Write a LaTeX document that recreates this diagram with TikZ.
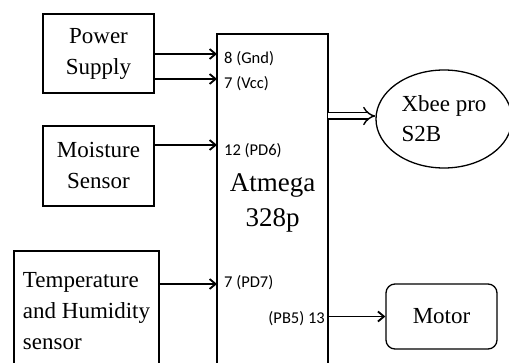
\documentclass[tikz,border=0pt]{standalone}
\usepackage{fontspec}
\setmainfont{Liberation Serif}
\newfontfamily\pinfont{Carlito}
\usetikzlibrary{arrows.meta,positioning,shapes.geometric}

\begin{document}
\begin{tikzpicture}[
  x=1pt, y=-1pt,
  block/.style={draw=black, line width=1.3pt, inner sep=0pt, align=center,
    minimum width=111pt, font=\fontsize{23}{31}\selectfont},
  pin/.style={inner sep=0pt, font=\pinfont\fontsize{16.5}{18}\selectfont},
  arr/.style={-{Straight Barb[length=6pt,width=10pt]}, line width=1.8pt},
  dbl/.style={-{Implies[scale=1.3]}, double, double distance=5pt, line width=1.4pt}
]
\useasboundingbox (0,0) rectangle (509,363);

\node[block, minimum height=79pt] (pw) at (98.5,53.5) {Power\\Supply};
\node[block, minimum height=80pt] (ms) at (98.5,166) {Moisture\\Sensor};
\node[block, minimum width=145pt, minimum height=120pt, align=left]
  (th) at (86.5,311) {Temperature\\and Humidity\\sensor};
\node[block, minimum height=338pt, font=\fontsize{27}{35}\selectfont] (mcu) at (272.5,203) {Atmega\\328p};
\node[block, ellipse, minimum width=136pt, minimum height=98pt, align=left, font=\fontsize{23}{30}\selectfont]
  (xbee) at (444,119) {Xbee pro\\S2B};
\node[block, rounded corners=9pt, minimum height=65pt] (motor) at (441.5,316.5) {Motor};

\coordinate (p8) at (217,54);
\coordinate (p7) at (217,79);
\coordinate (p12) at (217,145);
\coordinate (pd7) at (217,284);
\coordinate (tx) at (328,116);

\node[pin, anchor=west] (gnd) at ([shift={(7,5)}]p8) {8 (Gnd)};
\node[pin, anchor=west] (vcc) at ([shift={(7,5)}]p7) {7 (Vcc)};
\node[pin, anchor=west] (pd6) at ([shift={(7,6)}]p12) {12 (PD6)};
\node[pin, anchor=west] (pin7) at ([shift={(7,-1)}]pd7) {7 (PD7)};
\node[pin, anchor=east] (pb5) at (325,319) {(PB5) 13};

\draw[arr] (pw.east |- p8) -- (p8);
\draw[arr] (pw.east |- p7) -- (p7);
\draw[arr] (ms.east |- p12) -- (p12);
\draw[arr] (th.east |- pd7) -- (pd7);
\draw[arr] (mcu.east |- motor) -- (motor.west);
\draw[dbl] (tx) -- (xbee.west |- tx);
\end{tikzpicture}
\end{document}
